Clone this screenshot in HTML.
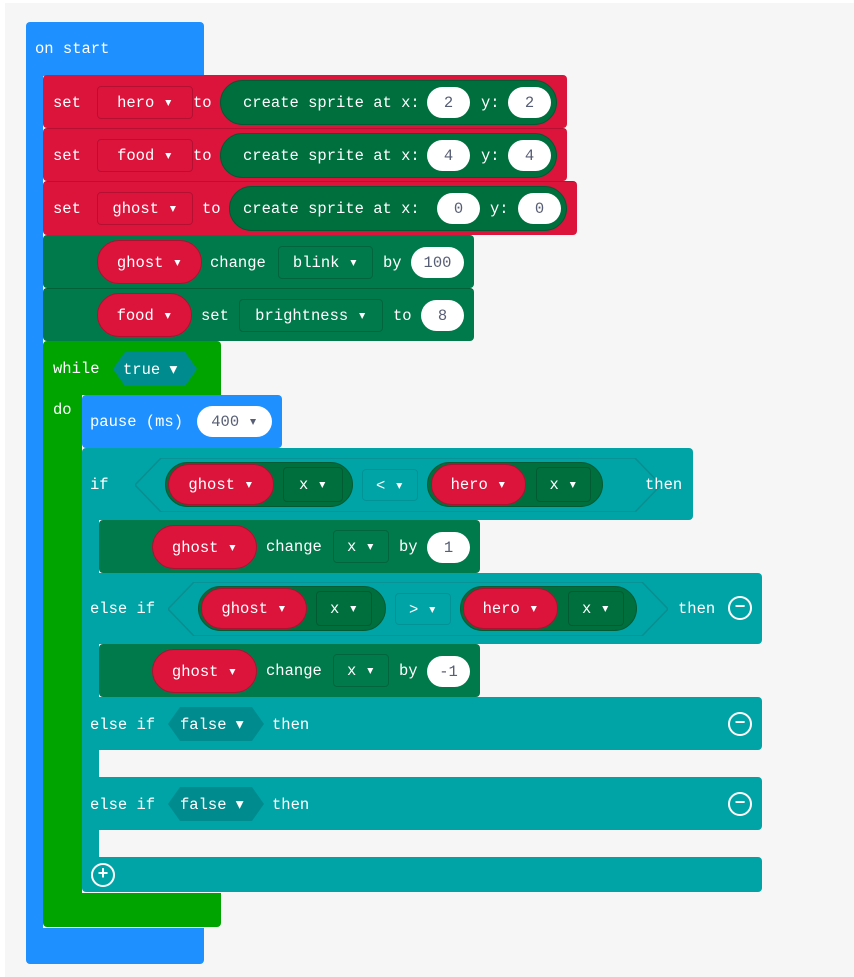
<!DOCTYPE html>
<html><head><meta charset="utf-8"><style>
body{margin:0;width:854px;height:977px;background:#fff;position:relative;overflow:hidden;font-family:"Liberation Mono",monospace;}
#bg{position:absolute;left:5px;top:3px;width:849px;height:974px;background:#f6f6f6;}
.b{position:absolute;}
.t{position:absolute;color:#fff;font-size:15.5px;line-height:20px;white-space:nowrap;}
.dd{position:absolute;border:1px solid rgba(0,0,0,0.18);border-radius:4px;box-sizing:border-box;color:#fff;font-size:15.5px;display:flex;align-items:center;justify-content:center;white-space:nowrap;}
.pill{position:absolute;border-radius:24px;box-sizing:border-box;display:flex;align-items:center;justify-content:center;color:#fff;font-size:15.5px;white-space:nowrap;}
.w{background:#fff;color:#575e75;}
.r{background:#dc143c;border:1px solid #b0102f;}
.g{background:#006f3e;border:1px solid #005a32;}
.circ{position:absolute;width:20px;height:20px;border:2px solid #fff;border-radius:50%;color:#fff;font-size:18px;line-height:20px;text-align:center;font-weight:bold;}
</style></head><body>
<div id="bg"></div>
<div class="b" style="left:26px;top:22px;width:178px;height:54px;background:#1e90ff;border-radius:4px 4px 0 0"></div>
<div class="b" style="left:26px;top:70px;width:17px;height:870px;background:#1e90ff"></div>
<div class="b" style="left:26px;top:928px;width:178px;height:36px;background:#1e90ff;border-radius:0 0 4px 4px"></div>
<div class="t" style="left:35px;top:39px">on start</div>
<div class="b" style="left:43px;top:75px;width:524px;height:53px;background:#dc143c;border-radius:4px"></div>
<div class="b" style="left:43px;top:128px;width:524px;height:53px;background:#dc143c;border-radius:4px;border-top:1px solid #b81030;box-sizing:border-box"></div>
<div class="b" style="left:43px;top:181px;width:534px;height:54px;background:#dc143c;border-radius:4px;border-top:1px solid #b81030;box-sizing:border-box"></div>
<div class="t" style="left:53px;top:93px">set</div>
<div class="t" style="left:53px;top:146px">set</div>
<div class="t" style="left:53px;top:199px">set</div>
<div class="dd" style="left:97px;top:86px;width:96px;height:33px">hero ▾</div>
<div class="dd" style="left:97px;top:139px;width:96px;height:33px">food ▾</div>
<div class="dd" style="left:97px;top:192px;width:96px;height:33px">ghost ▾</div>
<div class="t" style="left:193px;top:93px">to</div>
<div class="t" style="left:193px;top:146px">to</div>
<div class="t" style="left:202px;top:199px">to</div>
<div class="pill g" style="left:220px;top:80px;width:337px;height:45px"></div>
<div class="pill g" style="left:220px;top:133px;width:337px;height:45px"></div>
<div class="pill g" style="left:229px;top:186px;width:338px;height:45px"></div>
<div class="t" style="left:243px;top:93px">create sprite at x:</div>
<div class="t" style="left:243px;top:146px">create sprite at x:</div>
<div class="t" style="left:243px;top:199px">create sprite at x:</div>
<div class="t" style="left:481px;top:93px">y:</div>
<div class="t" style="left:481px;top:146px">y:</div>
<div class="t" style="left:490px;top:199px">y:</div>
<div class="pill w" style="left:427px;top:87px;width:43px;height:31px">2</div>
<div class="pill w" style="left:508px;top:87px;width:43px;height:31px">2</div>
<div class="pill w" style="left:427px;top:140px;width:43px;height:31px">4</div>
<div class="pill w" style="left:508px;top:140px;width:43px;height:31px">4</div>
<div class="pill w" style="left:437px;top:193px;width:43px;height:31px">0</div>
<div class="pill w" style="left:518px;top:193px;width:43px;height:31px">0</div>
<div class="b" style="left:43px;top:235px;width:431px;height:53px;background:#007a4b;border-radius:4px"></div>
<div class="b" style="left:43px;top:288px;width:431px;height:53px;background:#007a4b;border-radius:4px;border-top:1px solid #006038;box-sizing:border-box"></div>
<div class="pill r" style="left:97px;top:240px;width:105px;height:44px">ghost ▾</div>
<div class="t" style="left:210px;top:253px">change</div>
<div class="dd" style="left:278px;top:246px;width:95px;height:33px">blink ▾</div>
<div class="t" style="left:383px;top:253px">by</div>
<div class="pill w" style="left:411px;top:247px;width:53px;height:31px">100</div>
<div class="pill r" style="left:97px;top:293px;width:95px;height:44px">food ▾</div>
<div class="t" style="left:201px;top:306px">set</div>
<div class="dd" style="left:239px;top:299px;width:144px;height:33px">brightness ▾</div>
<div class="t" style="left:393px;top:306px">to</div>
<div class="pill w" style="left:421px;top:300px;width:43px;height:31px">8</div>
<div class="b" style="left:43px;top:341px;width:178px;height:54px;background:#00a400;border-radius:4px 4px 0 0"></div>
<div class="b" style="left:43px;top:390px;width:39px;height:510px;background:#00a400"></div>
<div class="b" style="left:43px;top:893px;width:178px;height:34px;background:#00a400;border-radius:0 0 4px 4px"></div>
<div class="t" style="left:53px;top:359px">while</div>
<svg class="b" style="left:113px;top:352px" width="84" height="34"><polygon points="12,0 72,0 84,17 72,34 12,34 0,17" fill="#008c8e"/><text x="10" y="22" fill="#fff" font-family="Liberation Mono" font-size="15.5">true ▾</text></svg>
<div class="t" style="left:53px;top:400px">do</div>
<div class="b" style="left:82px;top:395px;width:200px;height:53px;background:#1e90ff;border-radius:4px"></div>
<div class="t" style="left:90px;top:412px">pause (ms)</div>
<div class="pill w" style="left:197px;top:406px;width:75px;height:31px">400 ▾</div>
<div class="b" style="left:82px;top:448px;width:611px;height:72px;background:#00a4a6;border-radius:4px"></div>
<div class="b" style="left:82px;top:515px;width:17px;height:370px;background:#00a4a6"></div>
<div class="b" style="left:82px;top:573px;width:680px;height:71px;background:#00a4a6;border-radius:0 4px 4px 0"></div>
<div class="b" style="left:82px;top:697px;width:680px;height:53px;background:#00a4a6;border-radius:0 4px 4px 0"></div>
<div class="b" style="left:82px;top:777px;width:680px;height:53px;background:#00a4a6;border-radius:0 4px 4px 0"></div>
<div class="b" style="left:82px;top:857px;width:680px;height:35px;background:#00a4a6;border-radius:0 4px 4px 4px"></div>
<div class="t" style="left:90px;top:475px">if</div>
<svg class="b" style="left:135px;top:458px" width="526" height="54"><polygon points="26,0 500,0 526,27 500,54 26,54 0,27" fill="#00a4a6" stroke="#0a8e90" stroke-width="1.5"/></svg>
<div class="pill g" style="left:165px;top:462px;width:188px;height:45px"></div>
<div class="pill r" style="left:168px;top:464px;width:106px;height:41px">ghost ▾</div>
<div class="dd" style="left:283px;top:467px;width:60px;height:35px">x ▾</div>
<div class="dd" style="left:362px;top:469px;width:56px;height:32px;border-color:rgba(0,0,0,0.1)">&lt; ▾</div>
<div class="pill g" style="left:427px;top:462px;width:176px;height:45px"></div>
<div class="pill r" style="left:431px;top:464px;width:95px;height:41px">hero ▾</div>
<div class="dd" style="left:536px;top:467px;width:55px;height:35px">x ▾</div>
<div class="t" style="left:645px;top:475px">then</div>
<div class="b" style="left:99px;top:520px;width:381px;height:53px;background:#007a4b;border-radius:4px"></div>
<div class="pill r" style="left:152px;top:525px;width:105px;height:44px">ghost ▾</div>
<div class="t" style="left:266px;top:537px">change</div>
<div class="dd" style="left:333px;top:530px;width:56px;height:33px">x ▾</div>
<div class="t" style="left:399px;top:537px">by</div>
<div class="pill w" style="left:427px;top:532px;width:43px;height:31px">1</div>
<div class="t" style="left:90px;top:599px">else if</div>
<svg class="b" style="left:168px;top:582px" width="500" height="54"><polygon points="26,0 474,0 500,27 474,54 26,54 0,27" fill="#00a4a6" stroke="#0a8e90" stroke-width="1.5"/></svg>
<div class="pill g" style="left:198px;top:586px;width:188px;height:45px"></div>
<div class="pill r" style="left:201px;top:588px;width:106px;height:41px">ghost ▾</div>
<div class="dd" style="left:316px;top:591px;width:56px;height:35px">x ▾</div>
<div class="dd" style="left:395px;top:593px;width:56px;height:32px;border-color:rgba(0,0,0,0.1)">&gt; ▾</div>
<div class="pill g" style="left:460px;top:586px;width:177px;height:45px"></div>
<div class="pill r" style="left:463px;top:588px;width:95px;height:41px">hero ▾</div>
<div class="dd" style="left:568px;top:591px;width:56px;height:35px">x ▾</div>
<div class="t" style="left:678px;top:599px">then</div>
<div class="circ" style="left:728px;top:596px">−</div>
<div class="b" style="left:99px;top:644px;width:381px;height:53px;background:#007a4b;border-radius:4px"></div>
<div class="pill r" style="left:152px;top:649px;width:105px;height:44px">ghost ▾</div>
<div class="t" style="left:266px;top:661px">change</div>
<div class="dd" style="left:333px;top:654px;width:56px;height:33px">x ▾</div>
<div class="t" style="left:399px;top:661px">by</div>
<div class="pill w" style="left:427px;top:656px;width:43px;height:31px">-1</div>
<div class="t" style="left:90px;top:715px">else if</div>
<svg class="b" style="left:168px;top:707px" width="96" height="34"><polygon points="12,0 84,0 96,17 84,34 12,34 0,17" fill="#008c8e"/><text x="12" y="22" fill="#fff" font-family="Liberation Mono" font-size="15.5">false ▾</text></svg>
<div class="t" style="left:272px;top:715px">then</div>
<div class="circ" style="left:728px;top:712px">−</div>
<div class="t" style="left:90px;top:795px">else if</div>
<svg class="b" style="left:168px;top:787px" width="96" height="34"><polygon points="12,0 84,0 96,17 84,34 12,34 0,17" fill="#008c8e"/><text x="12" y="22" fill="#fff" font-family="Liberation Mono" font-size="15.5">false ▾</text></svg>
<div class="t" style="left:272px;top:795px">then</div>
<div class="circ" style="left:728px;top:792px">−</div>
<div class="circ" style="left:91px;top:863px">+</div>
</body></html>
